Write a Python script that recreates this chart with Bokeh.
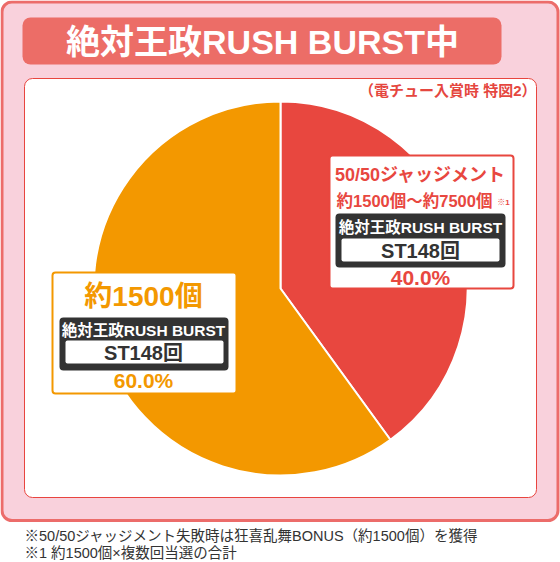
import numpy as np
from bokeh.plotting import figure
from bokeh.models import Range1d, BoxAnnotation
from bokeh.core.properties import value
from bokeh.embed import file_html
from bokeh.resources import INLINE

# ---- data ----
title = "絶対王政RUSH BURST中"
note = "（電チュー入賞時 特図2）"
categories = ["50/50ジャッジメント", "約1500個"]
shares = [40.0, 60.0]
payouts = ["約1500個～約7500個", "約1500個"]
payout_mark = "※1"
rush_name = "絶対王政RUSH BURST"
st_label = "ST148回"
slice_colors = ["#E8473F", "#F39800"]
footnotes = [
    "※50/50ジャッジメント失敗時は狂喜乱舞BONUS（約1500個）を獲得",
    "※1 約1500個×複数回当選の合計",
]

W, H = 560, 562
FONT = "Liberation Sans, Noto Sans CJK JP"


def Y(v):
    return H - v


p = figure(width=W, height=H, x_range=Range1d(0, W), y_range=Range1d(0, H),
           output_backend="svg", toolbar_location=None, min_border=0)
p.axis.visible = False
p.grid.visible = False
p.outline_line_color = None
p.background_fill_color = "white"
p.border_fill_color = "white"


def box(l, r, t, b, fill, line=None, lw=1, rad=0, level="underlay"):
    p.add_layout(BoxAnnotation(left=l, right=r, top=Y(t), bottom=Y(b),
                               fill_color=fill, fill_alpha=1,
                               line_color=line, line_width=lw, line_alpha=1 if line else 0,
                               border_radius=rad, level=level, editable=False))


def txt(x, y, s, size, color, bold=True, align="center"):
    p.text(x=[x], y=[Y(y)], text=[s], text_font=value(FONT),
           text_font_size=value(f"{size}px"), text_color=color,
           text_font_style="bold" if bold else "normal",
           text_align=align, text_baseline="middle", level="overlay")


# frames
box(1.5, 557.5, 1.5, 520, "#F9D1DC", "#EC6C6A", 3, 10)
box(22, 501, 17, 64, "#EC6D67", None, 0, 8)
box(24, 536, 78, 497, "white", "#E8453F", 1, 8)

# pie
cx, cy, R = 280, 288, 187
fr = np.array(shares) / sum(shares)
cum = np.concatenate([[0], np.cumsum(fr)])
starts = np.pi / 2 - 2 * np.pi * cum[:-1]
ends = np.pi / 2 - 2 * np.pi * cum[1:]
p.wedge(x=[cx] * len(shares), y=[Y(cy)] * len(shares), radius=R,
        start_angle=list(starts), end_angle=list(ends), direction="clock",
        fill_color=slice_colors, line_color="white", line_width=2)

# title + note
txt(262, 41, title, 34, "white")
txt(536, 90, note, 15, "#E5473F", align="right")

# right label (slice 0)
box(329, 513, 155, 288, "white", slice_colors[0], 2, 3, level="annotation")
box(335, 505, 213, 267, "#333333", None, 0, 4, level="annotation")
box(341, 499, 238, 261, "white", None, 0, 2, level="annotation")
txt(420, 174, categories[0], 18, slice_colors[0])
txt(414, 200, payouts[0], 16.5, slice_colors[0])
txt(503, 202, payout_mark, 8, slice_colors[0])
txt(420, 227, rush_name, 15.5, "white")
txt(420, 250, st_label, 20, "#333333")
txt(420, 277, f"{shares[0]:.1f}%", 21, slice_colors[0])

# left label (slice 1)
box(52, 236, 272, 393, "white", slice_colors[1], 2, 3, level="annotation")
box(59, 228, 317, 370, "#333333", None, 0, 4, level="annotation")
box(65, 223, 340, 363, "white", None, 0, 2, level="annotation")
txt(143, 296, payouts[1], 28, slice_colors[1])
txt(143, 330, rush_name, 15.5, "white")
txt(143, 352, st_label, 20, "#333333")
txt(143, 380, f"{shares[1]:.1f}%", 21, slice_colors[1])

# footnotes
txt(24, 535, footnotes[0], 14.5, "#333333", bold=False, align="left")
txt(24, 552, footnotes[1], 14.5, "#333333", bold=False, align="left")

open("out.html", "w").write(file_html(p, INLINE))
